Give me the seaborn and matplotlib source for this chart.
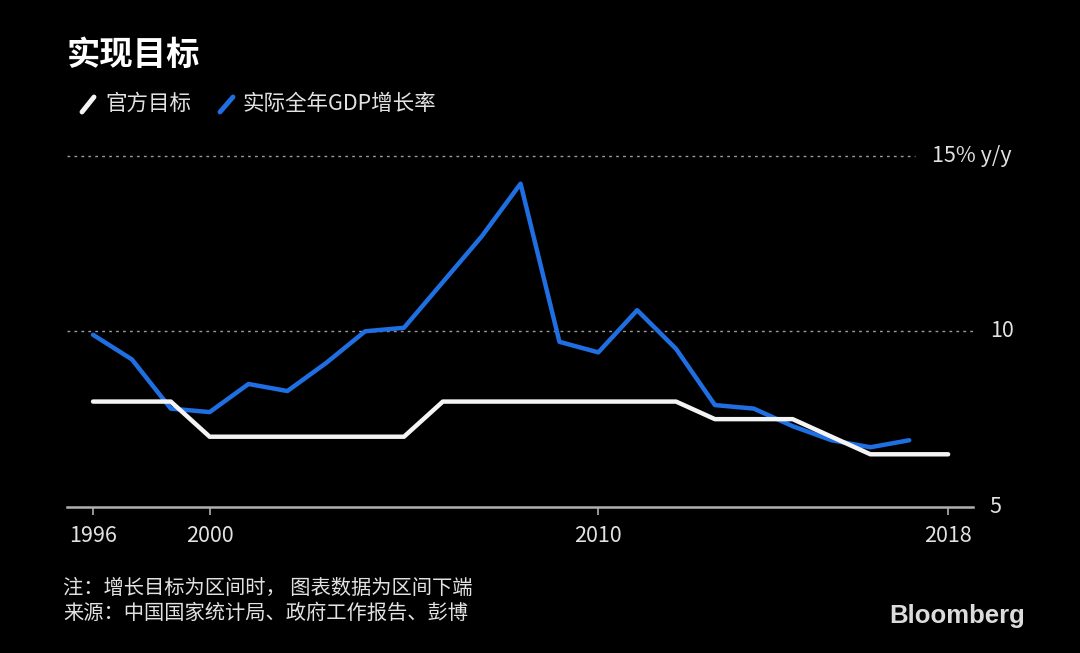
import matplotlib
matplotlib.use("Agg")
import matplotlib.pyplot as plt
from matplotlib.lines import Line2D
import seaborn as sns
import pandas as pd

# ---- data ----
years = list(range(1996, 2019))
target = [8, 8, 8, 7, 7, 7, 7, 7, 7, 8, 8, 8, 8, 8, 8, 8, 7.5, 7.5, 7.5, 7, 6.5, 6.5, 6.5]
gdp_years = list(range(1996, 2018))
gdp = [9.9, 9.2, 7.8, 7.7, 8.5, 8.3, 9.1, 10.0, 10.1, 11.4, 12.7, 14.2,
       9.7, 9.4, 10.6, 9.5, 7.9, 7.8, 7.3, 6.9, 6.7, 6.9]
series_names = ["官方目标", "实际全年GDP增长率"]
xtick_pos = [1996, 1999, 2009, 2018]
xtick_labels = ["1996", "2000", "2010", "2018"]
ytick_vals = [5, 10, 15]
ytick_labels = ["5", "10", "15% y/y"]
title = "实现目标"
notes = ["注：增长目标为区间时， 图表数据为区间下端",
         "来源：中国国家统计局、政府工作报告、彭博"]

df = pd.concat([
    pd.DataFrame({"year": years, "value": target, "series": series_names[0]}),
    pd.DataFrame({"year": gdp_years, "value": gdp, "series": series_names[1]}),
])

sns.set_theme(style="dark")
plt.rcParams["font.family"] = ["Noto Sans CJK SC", "DejaVu Sans"]

BG = "#000000"
TXT = "#e2e2e2"
BLUE = "#1f6fe3"
WHITE = "#f4f4f4"
palette = {series_names[0]: WHITE, series_names[1]: BLUE}

fig = plt.figure(figsize=(10.8, 6.53), dpi=100, facecolor=BG)
ax = fig.add_axes([67 / 1080, 1 - 507 / 653, (973 - 67) / 1080, (507 - 138) / 653])
ax.set_facecolor(BG)

ax.set_xlim(1995.33, 2018.64)
ax.set_ylim(5, 15.5)

# gridlines
ax.axhline(15, xmin=0, xmax=0.936, color="#9a9a9a", lw=1.0, ls=(0, (2, 3)), zorder=1)
ax.axhline(10, xmin=0, xmax=1.0, color="#9a9a9a", lw=1.0, ls=(0, (2, 3)), zorder=1)

sns.lineplot(data=df, x="year", y="value", hue="series", palette=palette,
             hue_order=series_names[::-1], linewidth=3.2, legend=False, ax=ax,
             zorder=3)
for ln in ax.lines:
    ln.set_solid_joinstyle("round")
    ln.set_solid_capstyle("round")

for s in ["top", "right", "left"]:
    ax.spines[s].set_visible(False)
ax.spines["bottom"].set_color("#b0b0b0")
ax.spines["bottom"].set_linewidth(1.8)
ax.spines["bottom"].set_visible(True)

ax.set_xticks(xtick_pos)
ax.set_xticklabels(xtick_labels)
ax.tick_params(axis="x", colors="#b0b0b0", length=6, width=1.2, direction="out",
               labelcolor=TXT, labelsize=15.5, pad=7, bottom=True)
ax.set_yticks([])
ax.set_xlabel("")
ax.set_ylabel("")
ax.grid(False)

# right-side y labels
ylab_x = {5: 1.018, 10: 1.019, 15: 0.955}
for v, lab in zip(ytick_vals, ytick_labels):
    ax.text(ylab_x[v], v, lab, transform=ax.get_yaxis_transform(), ha="left",
            va="center", color=TXT, fontsize=15.5)

# title
fig.text(67 / 1080, 1 - 55 / 653, title, color="#ffffff", fontsize=24,
         fontweight="bold", va="center", ha="left")

# legend
fig.add_artist(Line2D([82 / 1080, 94 / 1080], [1 - 112 / 653, 1 - 97 / 653],
                      color=WHITE, lw=3.5, solid_capstyle="round"))
fig.text(105 / 1080, 1 - 104 / 653, series_names[0], color=TXT, fontsize=15.5,
         va="center", ha="left")
fig.add_artist(Line2D([220 / 1080, 233 / 1080], [1 - 112 / 653, 1 - 97 / 653],
                      color=BLUE, lw=3.5, solid_capstyle="round"))
fig.text(242 / 1080, 1 - 104 / 653, series_names[1], color=TXT, fontsize=15.5,
         va="center", ha="left")

# notes
fig.text(63 / 1080, 1 - 588 / 653, notes[0], color=TXT, fontsize=14.6,
         va="center", ha="left")
fig.text(63 / 1080, 1 - 613 / 653, notes[1], color=TXT, fontsize=14.6,
         va="center", ha="left")

# logo
fig.text(1025 / 1080, 1 - 616 / 653, "Bloomberg", color="#dcdcdc", fontsize=18.5,
         fontweight="bold", family=["Liberation Sans", "DejaVu Sans"],
         va="center", ha="right")

fig.savefig("out.png", dpi=100, facecolor=BG)
